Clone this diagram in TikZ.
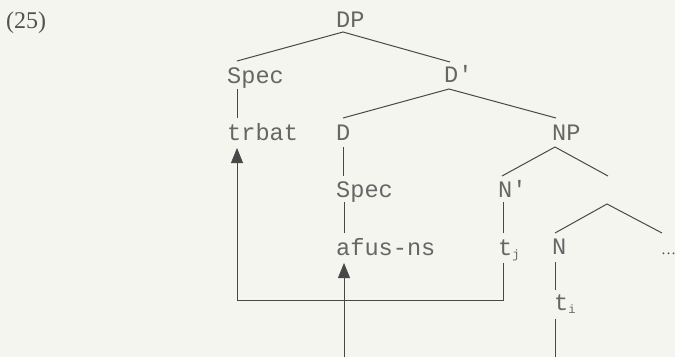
\documentclass[tikz,border=0pt]{standalone}
\usepackage{fontspec}
\setmainfont{Liberation Serif}
\setmonofont{Liberation Mono}
\usetikzlibrary{arrows.meta}
\definecolor{bg}{HTML}{F4F5EF}
\definecolor{ink}{HTML}{666666}
\definecolor{ln}{HTML}{484848}
\newcommand{\tsub}[1]{\raisebox{-3.5pt}{\fontsize{12}{12}\selectfont #1}}
\tikzset{
  lab/.style={anchor=base west, inner sep=0pt, text=ink, font=\ttfamily\fontsize{23.6}{23.6}\selectfont},
  branch/.style={draw=ln, line width=1pt},
  move/.style={draw=ln, line width=0.8pt},
  movetip/.style={move, -{Triangle[length=15pt,width=12pt]}}
}
\begin{document}
\begin{tikzpicture}[x=1pt,y=-1pt]
\fill[bg] (0,0) rectangle (675,357);
\useasboundingbox (0,0) rectangle (675,357);
\node[anchor=base west, inner sep=0pt, text=ink!80!black, font=\fontsize{24}{24}\selectfont] (ex) at (6,28) {(25)};
% labels
\node[lab] (DP) at (336,27) {DP};
\node[lab] (SpecA) at (227,83) {Spec};
\node[lab] (Dbar) at (444,82) {D'};
\node[lab] (trbat) at (227,140) {trbat};
\node[lab] (D) at (336,140) {D};
\node[lab] (NP) at (552,140) {NP};
\node[lab] (SpecB) at (336,197) {Spec};
\node[lab] (Nbar) at (498,197) {N'};
\node[lab] (afus) at (336,255) {afus-ns};
\node[lab] (tj) at (498,255) {t\tsub{j}};
\node[lab] (N) at (552,254) {N};
\node[anchor=base west, inner sep=0pt, text=ink!70!black, font=\fontsize{15}{15}\selectfont] (dots) at (661,254) {…};
\node[lab] (ti) at (554,310) {t\tsub{i}};
% branch points
\coordinate (dpA) at (343,32);
\coordinate (dpL) at (237,61);
\coordinate (dpR) at (450,62);
\coordinate (sAb) at (237,89);
\coordinate (sAe) at (237,118);
\coordinate (dbA) at (449,89);
\coordinate (dbL) at (343,118);
\coordinate (dbR) at (556,118);
\coordinate (dB) at (343,147);
\coordinate (dE) at (343,176);
\coordinate (npA) at (555,147);
\coordinate (npL) at (502,176);
\coordinate (npR) at (608,176);
\coordinate (sBb) at (344,202);
\coordinate (sBe) at (344,233);
\coordinate (nbB) at (503,202);
\coordinate (nbE) at (503,233);
\coordinate (xA) at (607,204);
\coordinate (xL) at (555,233);
\coordinate (xR) at (662,233);
\coordinate (nB) at (555,262);
\coordinate (nE) at (555,290);
\coordinate (tiB) at (555,319);
\coordinate (tiE) at (555,357);
% tree branches
\draw[branch] (dpL) -- (dpA) -- (dpR);
\draw[branch] (dbL) -- (dbA) -- (dbR);
\draw[branch] (npL) -- (npA) -- (npR);
\draw[branch] (xL) -- (xA) -- (xR);
\draw[move] (sAb) -- (sAe);
\draw[move] (dB) -- (dE);
\draw[move] (sBb) -- (sBe);
\draw[move] (nbB) -- (nbE);
\draw[move] (nB) -- (nE);
\draw[move] (tiB) -- (tiE);
% movement arrows
\coordinate (m1s) at (503,263);
\coordinate (m1c) at (503,300);
\coordinate (m1d) at (237,300);
\coordinate (m1t) at (237,148);
\draw[movetip] (m1s) -- (m1c) -- (m1d) -- (m1t);
\coordinate (m2s) at (344,357);
\coordinate (m2t) at (344,263);
\draw[movetip] (m2s) -- (m2t);
\end{tikzpicture}
\end{document}
